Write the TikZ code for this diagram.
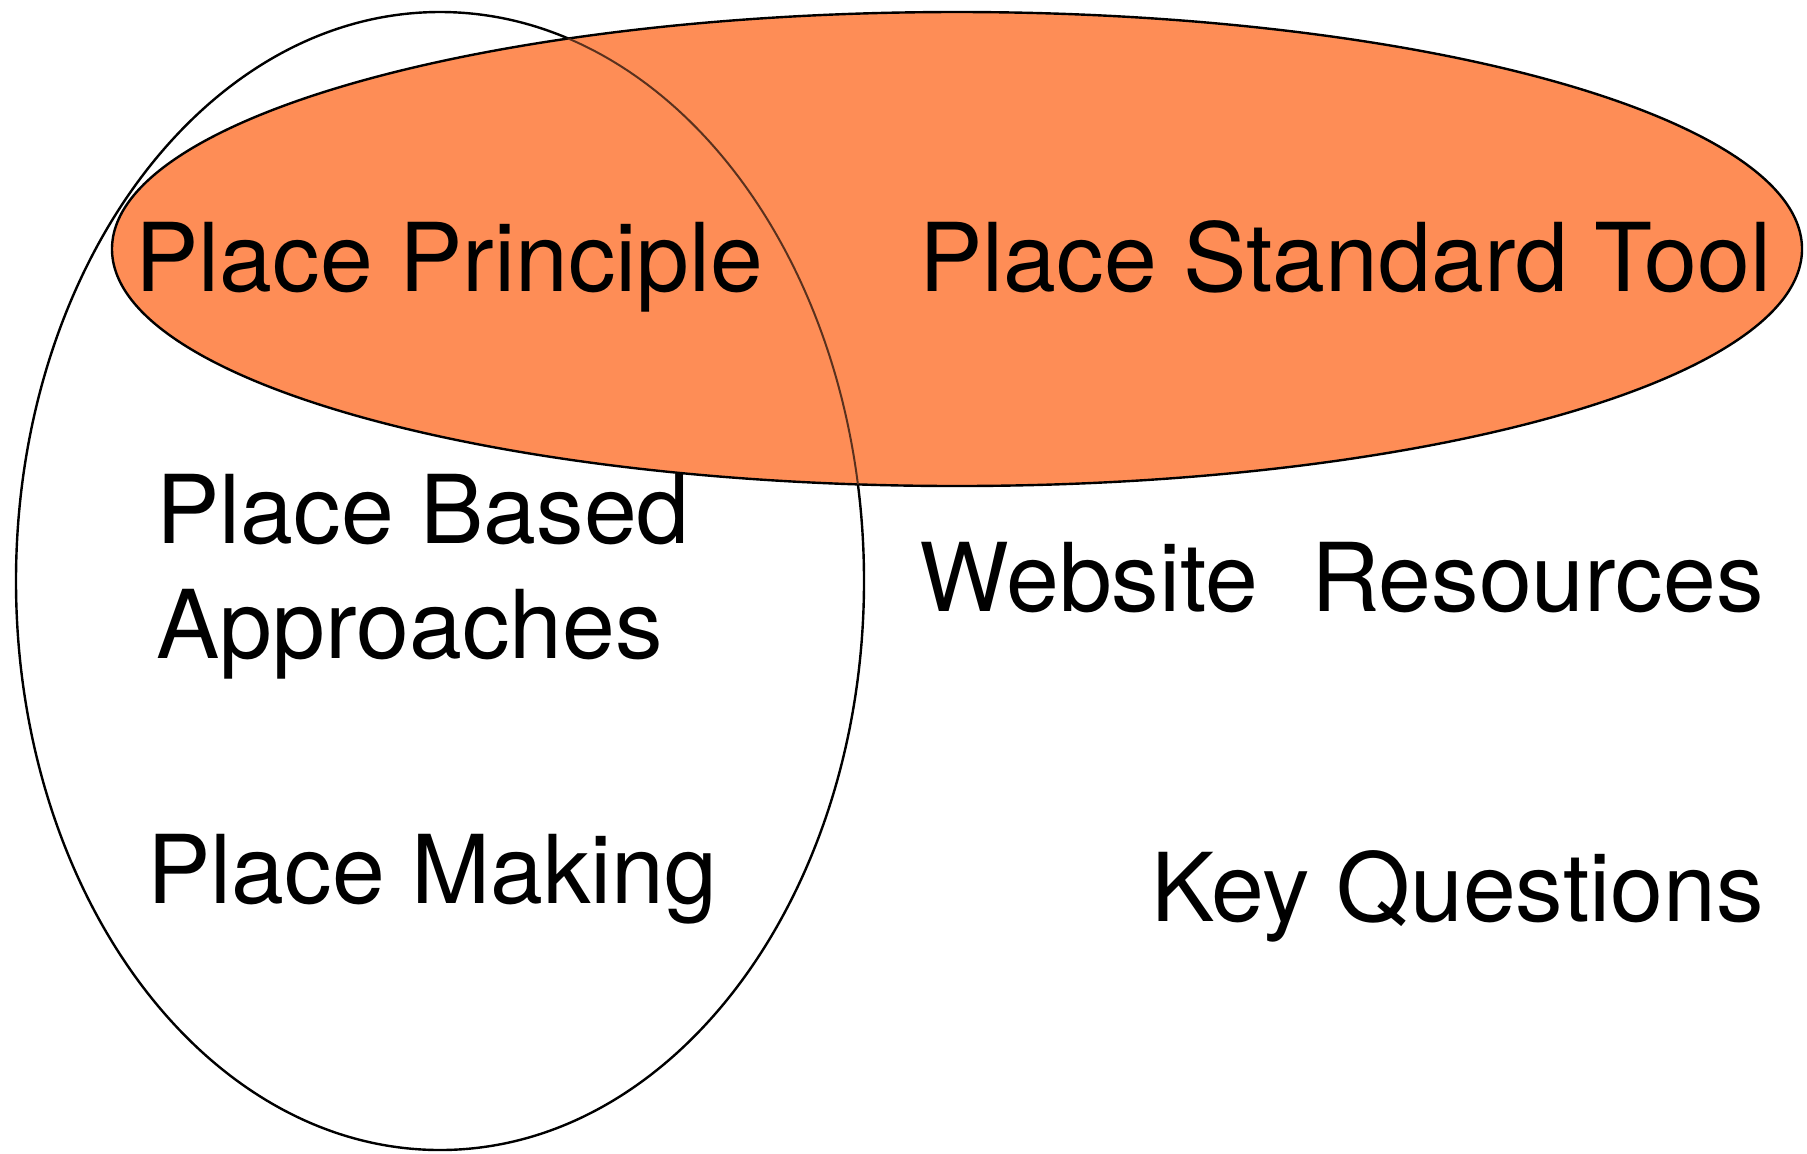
\documentclass[tikz,border=0pt]{standalone}
\usepackage{fontspec}
\setmainfont{TeX Gyre Heros}
\usepackage{tikz}
\definecolor{placeorange}{RGB}{254,141,86}
\tikzset{label text/.style={inner sep=0pt, font=\fontsize{47.5}{57.5}\selectfont}}

\begin{document}
\begin{tikzpicture}[x=0.5pt, y=-0.5pt]
\useasboundingbox (0,0) rectangle (1807,1153);
\coordinate (based) at (440,581);
\coordinate (standard) at (957,249);
% the two sets
\draw[line width=1.2pt] (based) ellipse [x radius=424, y radius=569];
\draw[line width=1.2pt, fill=placeorange] (standard) ellipse [x radius=845, y radius=237];
\begin{scope}
\clip (standard) ellipse [x radius=845, y radius=237];
\draw[line width=1pt, placeorange!35!black] (based) ellipse [x radius=424, y radius=569];
\end{scope}
% labels
\node[label text, anchor=base west] (principle) at (135,291) {Place Principle};
\node[label text, anchor=base west] (tool) at (919,291) {Place Standard Tool};
\node[label text, anchor=base west, align=left] (approaches) at (156,658) {Place Based\\Approaches};
\node[label text, anchor=base west] (website) at (919,611) {Website~~Resources};
\node[label text, anchor=base west] (making) at (147,903) {Place Making};
\node[label text, anchor=base east] (questions) at (1764,921) {Key Questions};
\end{tikzpicture}
\end{document}
